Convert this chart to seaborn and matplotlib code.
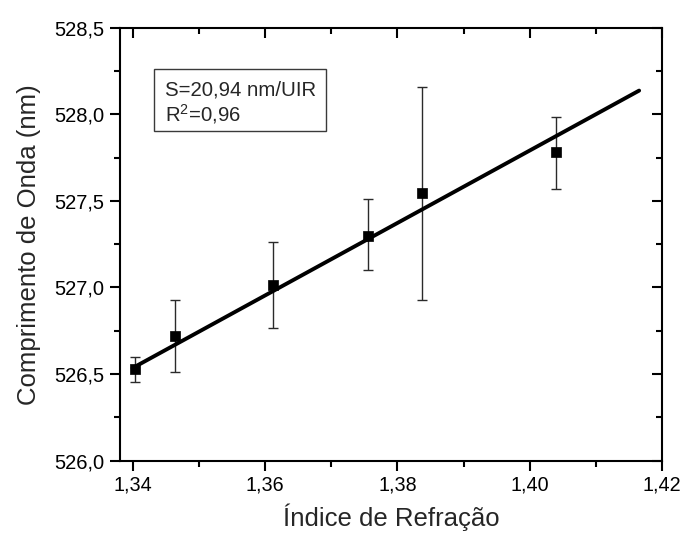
import matplotlib
matplotlib.use("Agg")
import matplotlib.pyplot as plt
import seaborn as sns
import numpy as np
import pandas as pd
from matplotlib.ticker import MultipleLocator, FuncFormatter
from matplotlib.patches import Rectangle

# Data
indice = [1.3403, 1.3464, 1.3612, 1.3755, 1.3837, 1.4039]
comprimento = [526.53, 526.72, 527.013, 527.30, 527.546, 527.78]
err_sup = [526.60, 526.925, 527.26, 527.51, 528.158, 527.985]
err_inf = [526.455, 526.51, 526.765, 527.10, 526.93, 527.57]
fit_slope = 20.94
fit_intercept = 498.4754
fit_x = [1.3400, 1.4165]
box_lines = ["S=20,94 nm/UIR", "R$^2$=0,96"]

sns.set_theme(style="white")
plt.rcParams['font.family'] = ['Liberation Sans', 'DejaVu Sans']
plt.rcParams['mathtext.fontset'] = 'custom'
plt.rcParams['mathtext.rm'] = 'Liberation Sans'

fig = plt.figure(figsize=(6.83, 5.34), dpi=100)
ax = fig.add_axes([0.1757, 0.1373, 0.794, 0.8108])

df = pd.DataFrame({"x": indice, "y": comprimento})
yerr = np.array([np.array(comprimento) - np.array(err_inf),
                 np.array(err_sup) - np.array(comprimento)])
ax.errorbar(indice, comprimento, yerr=yerr, fmt='none', ecolor='#2a2a2a',
            elinewidth=1.0, capsize=3.5, capthick=1.0, zorder=2)

fit_df = pd.DataFrame({"x": fit_x,
                       "y": [fit_intercept + fit_slope * v for v in fit_x]})
sns.lineplot(data=fit_df, x="x", y="y", ax=ax, color='black', linewidth=2.8,
             zorder=3, solid_capstyle='round')
sns.scatterplot(data=df, x="x", y="y", ax=ax, marker='s', s=55, color='black',
                edgecolor='black', linewidth=0.5, zorder=4)

ax.set_xlim(1.3381, 1.42)
ax.set_ylim(526.0, 528.5)
ax.xaxis.set_major_locator(MultipleLocator(0.02))
ax.xaxis.set_minor_locator(MultipleLocator(0.01))
ax.yaxis.set_major_locator(MultipleLocator(0.5))
ax.yaxis.set_minor_locator(MultipleLocator(0.25))
ax.xaxis.set_major_formatter(FuncFormatter(lambda v, p: f"{v:.2f}".replace('.', ',')))
ax.yaxis.set_major_formatter(FuncFormatter(lambda v, p: f"{v:.1f}".replace('.', ',')))

for s in ax.spines.values():
    s.set_visible(True)
    s.set_color('black')
    s.set_linewidth(1.5)

ax.tick_params(axis='both', which='major', direction='out', length=7, width=1.5,
               color='black', labelcolor='black', pad=4, left=True, bottom=True)
ax.tick_params(axis='y', which='major', labelsize=14.5)
ax.tick_params(axis='x', which='major', labelsize=14.2)
ax.tick_params(axis='both', which='minor', direction='out', length=4, width=1.5,
               color='black', left=True, bottom=True)
ax.tick_params(axis='x', which='both', top=True)
ax.tick_params(axis='y', which='both', right=True)
# top/right ticks pointing inward
for t in ax.xaxis.get_major_ticks() + ax.xaxis.get_minor_ticks():
    t.tick2line.set_marker(3)
for t in ax.yaxis.get_major_ticks() + ax.yaxis.get_minor_ticks():
    t.tick2line.set_marker(0)

ax.set_xlabel("Índice de Refração", fontsize=18.5, labelpad=6)
ax.set_ylabel("Comprimento de Onda (nm)", fontsize=18.5, labelpad=10)

ax.add_patch(Rectangle((0.0627, 0.7614), 0.3166, 0.1425, transform=ax.transAxes,
                       facecolor='white', edgecolor='#3a3a3a', linewidth=1.0,
                       zorder=5))
ax.text(0.083, 0.843, box_lines[0], transform=ax.transAxes, fontsize=14.7,
        va='baseline', ha='left', zorder=6)
ax.text(0.083, 0.7845, box_lines[1], transform=ax.transAxes, fontsize=14.7,
        va='baseline', ha='left', zorder=6)

fig.savefig("out.png", dpi=100)
